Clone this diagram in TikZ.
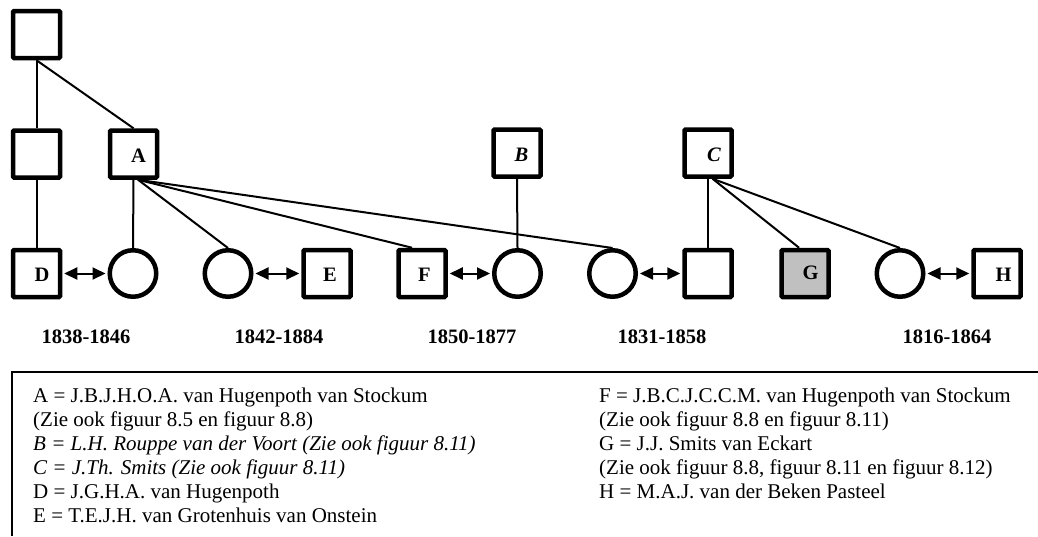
\documentclass[tikz,border=0pt]{standalone}
\usepackage{fontspec}
\setmainfont{Liberation Serif}
\usetikzlibrary{arrows.meta}
\begin{document}
\begin{tikzpicture}[x=1pt,y=-1pt,
  sq/.style={draw, line width=4.5pt, minimum size=47pt, inner sep=0pt, rounded corners=1pt},
  ci/.style={draw, circle, line width=4.5pt, minimum size=46.5pt, inner sep=0pt},
  lett/.style={font=\fontsize{20.5}{24}\selectfont\bfseries, inner sep=0pt},
  yr/.style={font=\fontsize{20.5}{24}\selectfont\bfseries, anchor=base, inner sep=0pt},
  leg/.style={font=\fontsize{21}{24}\selectfont, anchor=base west, inner sep=0pt},
  con/.style={line width=2pt},
  mar/.style={line width=2pt, shorten <=2pt, shorten >=2pt, {Triangle[length=13pt,width=12pt]}-{Triangle[length=13pt,width=12pt]}},
  frame/.style={line width=1.5pt}
]
\useasboundingbox (0,0) rectangle (1038,536);

% top
\node[sq] (T0) at (36.5,34.5) {};
% middle row
\node[sq] (L) at (36.5,154) {};
\node[sq] (A) at (133.5,154) {};
\node[sq] (B) at (517,153) {};
\node[sq] (C) at (708,153) {};
% bottom row
\node[sq] (D) at (36.5,273.5) {};
\node[ci] (c1) at (133,273.5) {};
\node[ci] (c2) at (228,273.5) {};
\node[sq] (E) at (327,273.5) {};
\node[sq] (F) at (422,273.5) {};
\node[ci] (c3) at (517.5,273.5) {};
\node[ci] (c4) at (612.5,273.5) {};
\node[sq] (S) at (708,273.5) {};
\node[sq, fill={rgb,255:red,192;green,192;blue,192}] (G) at (805,273.5) {};
\node[ci] (c5) at (900,273.5) {};
\node[sq] (H) at (997,273.5) {};

% letters
\node[lett] (lA) at ([xshift=5pt,yshift=-2pt]A.center) {A};
\node[lett] (lB) at ([xshift=4.5pt,yshift=-2pt]B.center) {\itshape B};
\node[lett] (lC) at ([xshift=6pt,yshift=-2pt]C.center) {\itshape C};
\node[lett] (lD) at ([xshift=5.5pt,yshift=-1pt]D.center) {D};
\node[lett] (lE) at ([xshift=3pt,yshift=-1pt]E.center) {E};
\node[lett] (lF) at ([xshift=2.5pt,yshift=-1pt]F.center) {F};
\node[lett] (lG) at ([xshift=5.5pt,yshift=1pt]G.center) {G};
\node[lett] (lH) at ([xshift=6.5pt,yshift=-1pt]H.center) {H};

% connectors
\draw[con] (T0.south) -- (L.north);
\draw[con] (T0.south) -- (A.north);
\draw[con] (L.south) -- (D.north);
\draw[con] (A.south) -- (c1.north);
\draw[con] (A.-80) -- (c2.north);
\draw[con] (A.-80) -- (F.111);
\draw[con] (A.-80) -- (c4.north);
\draw[con] (B.south) -- (c3.north);
\draw[con] (C.south) -- (S.north);
\draw[con] (C.-80) -- (G.103);
\draw[con] (C.-80) -- (c5.north);

% marriages
\draw[mar] (D.east) -- (c1.west);
\draw[mar] (c2.east) -- (E.west);
\draw[mar] (F.east) -- (c3.west);
\draw[mar] (c4.east) -- (S.west);
\draw[mar] (c5.east) -- (H.west);

% years
\node[yr] (y1) at (86,343) {1838-1846};
\node[yr] (y2) at (279,343) {1842-1884};
\node[yr] (y3) at (472,343) {1850-1877};
\node[yr] (y4) at (662,343) {1831-1858};
\node[yr] (y5) at (947,343) {1816-1864};

% legend frame
\coordinate (fTL) at (12,372);
\coordinate (fTR) at (1038,372);
\coordinate (fBL) at (12,536);
\draw[frame] (fBL) -- (fTL) -- (fTR);

% legend text
\node[leg] (la1) at (33,402) {A = J.B.J.H.O.A. van Hugenpoth van Stockum};
\node[leg] (la2) at (33,426) {(Zie ook figuur 8.5 en figuur 8.8)};
\node[leg] (la3) at (33,450) {\itshape B = L.H. Rouppe van der Voort (Zie ook figuur 8.11)};
\node[leg] (la4) at (33,474) {\itshape C = J.Th. Smits (Zie ook figuur 8.11)};
\node[leg] (la5) at (33,498) {D = J.G.H.A. van Hugenpoth};
\node[leg] (la6) at (33,522) {E = T.E.J.H. van Grotenhuis van Onstein};
\node[leg] (lb1) at (599,402) {F = J.B.C.J.C.C.M. van Hugenpoth van Stockum};
\node[leg] (lb2) at (599,426) {(Zie ook figuur 8.8 en figuur 8.11)};
\node[leg] (lb3) at (599,450) {G = J.J. Smits van Eckart};
\node[leg] (lb4) at (599,474) {(Zie ook figuur 8.8, figuur 8.11 en figuur 8.12)};
\node[leg] (lb5) at (599,498) {H = M.A.J. van der Beken Pasteel};
\end{tikzpicture}
\end{document}
